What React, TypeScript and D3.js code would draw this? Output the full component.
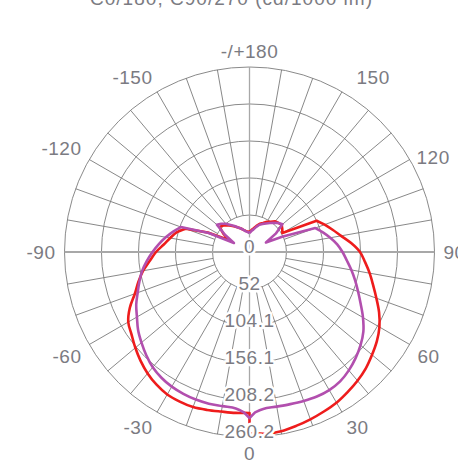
import React from "react";
import * as d3 from "d3";

// Polar angles (degrees, 0 at bottom, positive towards the right)
const anglesHalf = [0, 2, 5, 10, 15, 20, 25, 30, 35, 40, 45, 50, 55, 60, 65, 70, 75, 80, 85, 90, 95, 100, 105, 110, 115, 120, 125, 130, 135, 140, 145, 150, 155, 160, 165, 170, 175, 180];

// Red curve (C0 / C180) in cd/klm
const redRight = [254.6, 255.3, 256.7, 256.0, 253.2, 250.4, 247.5, 244.7, 240.5, 236.3, 231.4, 225.0, 218.7, 211.0, 201.1, 189.9, 180.0, 171.6, 163.2, 155.4, 143.5, 130.8, 121.0, 112.5, 104.1, 53.4, 56.3, 59.1, 57.7, 56.3, 52.0, 49.2, 45.0, 42.2, 38.0, 33.8, 30.9, 28.1];
const redLeft = [226.4, 226.4, 227.1, 227.9, 230.0, 232.1, 232.1, 231.4, 227.9, 222.9, 216.6, 209.6, 202.5, 196.9, 185.7, 171.6, 161.7, 151.9, 140.7, 131.5, 121.0, 113.2, 106.2, 95.6, 64.7, 33.8, 45.0, 54.9, 52.7, 49.2, 45.0, 41.5, 38.0, 35.2, 32.3, 30.2, 28.8, 28.1];

// Purple curve (C90 / C270)
const purpleRight = [233.5, 225.7, 221.5, 220.8, 221.5, 222.9, 224.3, 224.3, 222.2, 217.3, 211.0, 203.9, 195.5, 184.3, 172.5, 162.5, 153.8, 145.5, 137.5, 130.8, 123.8, 115.3, 106.9, 98.5, 50.6, 26.7, 45.0, 60.5, 57.7, 53.4, 49.9, 46.4, 43.6, 40.8, 36.6, 32.3, 29.5, 26.7];
const purpleLeft = [233.5, 225.7, 220.8, 220.1, 220.8, 220.8, 220.1, 218.7, 215.9, 211.7, 205.3, 198.3, 191.3, 182.8, 175.8, 167.4, 160.3, 153.3, 144.9, 136.4, 128.0, 119.6, 111.1, 102.7, 63.3, 25.3, 42.2, 59.8, 56.3, 52.0, 46.4, 42.2, 38.0, 35.2, 32.3, 29.5, 28.1, 26.7];

const ringValues = [0, 52, 104.1, 156.1, 208.2, 260.2];
const ringLabels = ["0", "52", "104.1", "156.1", "208.2", "260.2"];
const angleTicks = [0, 30, 60, 90, 120, 150, 180, -150, -120, -90, -60, -30];
const angleTickLabels = ["0", "30", "60", "90", "120", "150", "-/+180", "-150", "-120", "-90", "-60", "-30"];
const titleText = "C0/180, C90/270 (cd/1000 lm)";

const W = 458;
const H = 462;
const cx = 249.5;
const cy = 252;
const R = 185;
const FONT = "'Liberation Sans', Arial, Helvetica, sans-serif";
const TEXT = "#7b7b82";

// small placement nudges for the upper-right angle labels
const labelNudge: Record<number, [number, number]> = { 150: [10, 0], 120: [-1, 9] };

const rad = (deg: number) => (deg * Math.PI) / 180;

export default function App() {
  const r = d3.scaleLinear().domain([0, 260.2]).range([0, R]);
  const mk = (curve: d3.CurveFactory) =>
    d3
      .lineRadial<[number, number]>()
      .angle((d) => Math.PI - rad(d[0]))
      .radius((d) => r(d[1]))
      .curve(curve);
  const lin = mk(d3.curveLinear);
  const smooth = mk(d3.curveCatmullRom.alpha(0.5));

  // smooth main lobe between |angle| 2..110, sharp corners elsewhere
  const build = (left: number[], right: number[]) => {
    const pts: [number, number][] = [];
    for (let i = anglesHalf.length - 1; i >= 0; i--) pts.push([-anglesHalf[i], left[i]]);
    for (let i = 0; i < anglesHalf.length; i++) pts.push([anglesHalf[i], right[i]]);
    const n = anglesHalf.length;
    const i110 = anglesHalf.indexOf(110);
    const i2 = anglesHalf.indexOf(2);
    const L110 = n - 1 - i110;
    const L2 = n - 1 - i2;
    const R2 = n + i2;
    const R110 = n + i110;
    const pieces: [number[], boolean][] = [
      [[0, L110], false],
      [[L110, L2], true],
      [[L2, R2], false],
      [[R2, R110], true],
      [[R110, pts.length - 1], false],
    ];
    return pieces
      .map(([[a, b], sm], k) => {
        const d = (sm ? smooth : lin)(pts.slice(a, b + 1)) || "";
        return k === 0 ? d : "L" + d.slice(1);
      })
      .join("");
  };

  const spokes = d3.range(0, 360, 10).filter((a) => a % 90 !== 0);
  const ringRadii = ringValues.slice(1).map((v) => r(v));

  const labelR = 194;
  const fs = 19;

  return (
    <svg width={W} height={H} style={{ position: "absolute", left: 0, top: 0, background: "#fff" }}>
      <text x={90} y={5} fontFamily={FONT} fontSize={fs} fill={TEXT} textLength={282} lengthAdjust="spacing">
        {titleText}
      </text>
      <g transform={`translate(${cx},${cy})`}>
        {ringRadii.map((rr, i) => (
          <circle key={"c" + i} r={rr} fill="none" stroke="#8a8a8a" strokeWidth={1} />
        ))}
        {spokes.map((a) => (
          <line
            key={"s" + a}
            x1={ringRadii[0] * Math.sin(rad(a))}
            y1={ringRadii[0] * Math.cos(rad(a))}
            x2={R * Math.sin(rad(a))}
            y2={R * Math.cos(rad(a))}
            stroke="#7a7a7a"
            strokeWidth={0.9}
          />
        ))}
        <line x1={-R} y1={0} x2={R} y2={0} stroke="#a8a8a8" strokeWidth={1.8} />
        <line x1={0} y1={-R} x2={0} y2={R} stroke="#a8a8a8" strokeWidth={1.3} />
        <path d={build(redLeft, redRight)} fill="none" stroke="#ee1c1c" strokeWidth={2.6} strokeLinejoin="round" />
        <path d={build(purpleLeft, purpleRight)} fill="none" stroke="#b24fae" strokeWidth={2.6} strokeLinejoin="round" />
        {ringValues.map((v, i) => (
          <text
            key={"rl" + i}
            x={0}
            y={r(v) + 1}
            textAnchor="middle"
            fontFamily={FONT}
            fontSize={fs}
            letterSpacing={0.5}
            fill={TEXT}
            stroke="#fff"
            strokeWidth={5}
            strokeLinejoin="round"
            paintOrder="stroke"
          >
            {ringLabels[i]}
          </text>
        ))}
        {angleTicks.map((a, i) => {
          const s = Math.sin(rad(a));
          const c = Math.cos(rad(a));
          const nudge = labelNudge[a] || [0, 0];
          const x = labelR * s + nudge[0];
          const y = labelR * c + nudge[1];
          const anchor = s > 0.01 ? "start" : s < -0.01 ? "end" : "middle";
          const by = c > 0.01 ? y + fs * 0.72 : c < -0.01 ? y : y + fs * 0.36;
          return (
            <text
              key={"al" + i}
              x={x}
              y={by}
              textAnchor={anchor}
              fontFamily={FONT}
              fontSize={fs}
              letterSpacing={0.5}
              fill={TEXT}
            >
              {angleTickLabels[i]}
            </text>
          );
        })}
      </g>
    </svg>
  );
}
